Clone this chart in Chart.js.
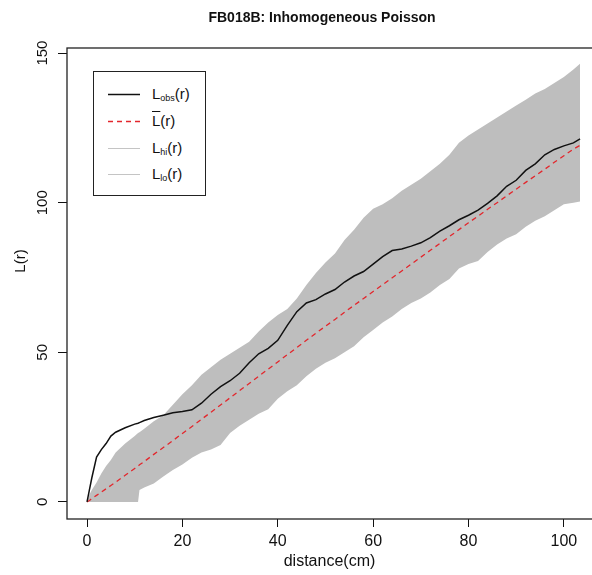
<!DOCTYPE html>
<html>
<head>
<meta charset="utf-8">
<script src="https://cdn.jsdelivr.net/npm/chart.js@4.4.0/dist/chart.umd.min.js"></script>
<style>
  body { margin: 0; background: #fff; }
  #wrap { position: relative; width: 592px; height: 575px; }
  #legend {
    position: absolute; left: 93px; top: 71px; width: 113px; height: 125px;
    border: 1.3px solid #222; box-sizing: border-box; background: #fff;
    font-family: "Liberation Sans", Arial, sans-serif; font-size: 15px; color: #111;
  }
  .row { position: absolute; left: 0; width: 100%; height: 20px; }
  .row svg { position: absolute; left: 14px; top: 9px; }
  .txt { position: absolute; left: 58px; top: 0px; line-height: 19px; }
  .txt sub { font-size: 9px; vertical-align: -2px; }
  .bar { text-decoration: overline; }
</style>
</head>
<body>
<div id="wrap">
  <canvas id="chart" width="592" height="575"></canvas>
  <div id="legend">
    <div class="row" style="top:12px"><svg width="32" height="3"><line x1="0" y1="1.5" x2="32" y2="1.5" stroke="#111" stroke-width="1.5"/></svg><div class="txt">L<sub>obs</sub>(r)</div></div>
    <div class="row" style="top:39px"><svg width="32" height="3"><line x1="0" y1="1.5" x2="32" y2="1.5" stroke="#e3262c" stroke-width="1.5" stroke-dasharray="5 4"/></svg><div class="txt"><span class="bar">L</span>(r)</div></div>
    <div class="row" style="top:66px"><svg width="32" height="3"><line x1="0" y1="1.5" x2="32" y2="1.5" stroke="#c4c4c4" stroke-width="1"/></svg><div class="txt">L<sub>hi</sub>(r)</div></div>
    <div class="row" style="top:92px"><svg width="32" height="3"><line x1="0" y1="1.5" x2="32" y2="1.5" stroke="#c4c4c4" stroke-width="1"/></svg><div class="txt">L<sub>lo</sub>(r)</div></div>
  </div>
</div>
<script>
// r (cm)
const distance = [0, 0.5, 1, 2, 3, 4, 5, 6, 8, 10, 10.7, 11, 12, 14, 16, 18, 20, 22, 24, 26, 28, 30,
  32, 34, 36, 38, 40, 42, 44, 46, 48, 50, 52, 54, 56, 58, 60, 62, 64, 66, 68, 70, 72, 74, 76, 78,
  80, 82, 84, 86, 88, 90, 92, 94, 96, 98, 100, 102, 103.4];

// observed L
const lObs = [0, 4, 8, 15, 17.5, 19.5, 22, 23.3, 24.8, 26, 26.3, 26.5, 27.2, 28.2, 29, 29.8, 30.2, 30.8,
  33, 36, 38.5, 40.5, 43, 46.5, 49.5, 51.3, 54, 59, 63.6, 66.5, 67.6, 69.5, 71, 73.5, 75.5, 77,
  79.5, 82, 84, 84.5, 85.5, 86.6, 88.3, 90.5, 92.3, 94.3, 95.8, 97.5, 99.8, 102.3, 105.5, 107.5,
  110.8, 113, 116, 117.8, 119, 120, 121.3];

// mean of simulations
const lMean = [0, 0.5, 1.1, 2.2, 3.3, 4.4, 5.5, 6.6, 8.9, 11.2, 12, 12.4, 13.5, 15.9, 18.2, 20.5, 22.9,
  25.2, 27.6, 30, 32.4, 34.8, 37.2, 39.6, 42, 44.4, 46.8, 49.2, 51.6, 54, 56.4, 58.7, 61, 63.4,
  65.7, 68, 70.3, 72.6, 74.9, 77.2, 79.5, 81.8, 84.1, 86.4, 88.7, 91, 93.3, 95.5, 97.8, 100,
  102.3, 104.5, 106.8, 109, 111.2, 113.5, 115.7, 117.9, 119.2];

// envelope
const lHi = [0, 2.5, 4, 6.5, 9.5, 12, 14, 16.5, 19.5, 22, 23, 23.3, 24.5, 27, 29, 32.5, 36, 39, 42.5,
  45, 47.5, 49.5, 51.5, 53.5, 57, 60, 62.5, 64.5, 68, 72.5, 76.5, 80, 83, 87.5, 91, 95, 98, 99.5, 101.5,
  104, 106, 108, 110.5, 113, 116, 120, 122.5, 124.5, 126.5, 128.5, 130.5, 132.5, 134.4, 136.5,
  138, 140, 142, 144.5, 146.5];
const lLo = [0, 0, 0, 0, 0, 0, 0, 0, 0, 0, 0, 4, 4.8, 6.2, 8.5, 10.7, 12.5, 14.8, 16.5, 17.5, 19,
  23, 25.5, 27.5, 29.5, 31, 34.5, 37, 39, 42, 44.5, 46.5, 48, 50, 52, 55, 57.5, 60, 62, 64.5,
  66.5, 68, 70, 72.5, 74.5, 78, 79.5, 80.5, 83.5, 86, 88, 89.5, 92, 94, 95.5, 97.5, 99.5, 100,
  100.4];

const xTicks = [0, 20, 40, 60, 80, 100];
const yTicks = [0, 50, 100, 150];

const pts = (ys) => distance.map((d, i) => ({ x: d, y: ys[i] }));
const FONT = '"Liberation Sans", Arial, sans-serif';

// titles, y labels, box
const rStyle = {
  id: "rStyle",
  afterDraw(chart) {
    const ctx = chart.ctx;
    const a = chart.chartArea;
    const ys = chart.scales.y;
    ctx.save();
    ctx.strokeStyle = "#222";
    ctx.lineWidth = 1.3;
    ctx.strokeRect(a.left, a.top, a.right - a.left + 10, a.bottom - a.top);

    ctx.fillStyle = "#111";
    ctx.textAlign = "center";
    ctx.textBaseline = "middle";
    ctx.font = "bold 14px " + FONT;
    ctx.fillText("FB018B: Inhomogeneous Poisson", 322, 18);

    ctx.font = "15px " + FONT;
    ys.ticks.forEach((t) => {
      const y = ys.getPixelForValue(t.value);
      ctx.save();
      ctx.translate(43, y);
      ctx.rotate(-Math.PI / 2);
      ctx.fillText(String(t.value), 0, 0);
      ctx.restore();
    });
    ctx.translate(21, 261);
    ctx.rotate(-Math.PI / 2);
    ctx.fillText("L(r)", 0, 0);
    ctx.restore();
  },
};

new Chart(document.getElementById("chart"), {
  type: "line",
  data: {
    datasets: [
      { label: "obs", data: pts(lObs), borderColor: "#111", borderWidth: 1.5, pointRadius: 0, fill: false, order: 0 },
      { label: "mean", data: pts(lMean), borderColor: "#e3262c", borderWidth: 1.3, borderDash: [5, 4], pointRadius: 0, fill: false, order: 1 },
      { label: "hi", data: pts(lHi), borderWidth: 0, borderColor: "rgba(0,0,0,0)", backgroundColor: "#bebebe", pointRadius: 0, fill: "+1", order: 2 },
      { label: "lo", data: pts(lLo), borderWidth: 0, borderColor: "rgba(0,0,0,0)", pointRadius: 0, fill: false, order: 3 },
    ],
  },
  options: {
    responsive: false,
    animation: false,
    layout: { padding: { top: 48, left: 0, right: 0, bottom: 0 } },
    plugins: { legend: { display: false }, tooltip: { enabled: false }, title: { display: false } },
    scales: {
      x: {
        type: "linear", min: -4.2, max: 105.9,
        afterBuildTicks: (s) => { s.ticks = xTicks.map((v) => ({ value: v })); },
        afterFit: (s) => { s.height = 56; },
        grid: { drawOnChartArea: false, color: "#111", tickLength: 8, lineWidth: 1 },
        border: { display: false },
        ticks: { color: "#111", font: { family: FONT, size: 16 }, padding: 5, maxRotation: 0 },
        title: { display: true, text: "distance(cm)", color: "#111", font: { family: FONT, size: 16 }, padding: { top: 0, bottom: 4 } },
      },
      y: {
        min: -5.7, max: 151.7,
        afterBuildTicks: (s) => { s.ticks = yTicks.map((v) => ({ value: v })); },
        afterFit: (s) => { s.width = 67; },
        grid: { drawOnChartArea: false, color: "#111", tickLength: 9, lineWidth: 1 },
        border: { display: false },
        ticks: { color: "rgba(0,0,0,0)", font: { family: FONT, size: 15 } },
      },
    },
  },
  plugins: [rStyle],
});
</script>
</body>
</html>
